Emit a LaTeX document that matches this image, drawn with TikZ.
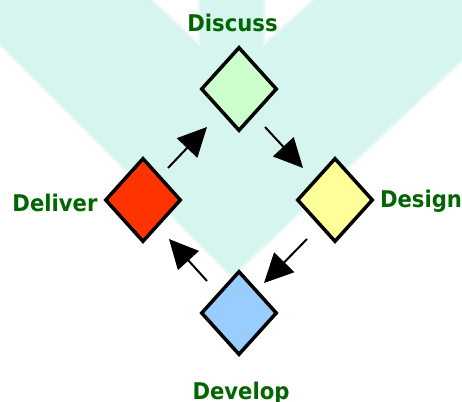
\documentclass[tikz,border=0pt]{standalone}
\usepackage{fontspec}
\setmainfont{DejaVu Sans}
\newfontfamily\lblfont[FakeStretch=0.92]{DejaVu Sans Bold}
\usetikzlibrary{shapes.geometric,arrows.meta}
\definecolor{bgcyan}{RGB}{213,245,238}
\definecolor{lblgreen}{RGB}{0,102,0}
\definecolor{cgreen}{RGB}{204,255,204}
\definecolor{cyellow}{RGB}{255,255,153}
\definecolor{cblue}{RGB}{153,204,255}
\definecolor{cred}{RGB}{255,51,0}
\tikzset{
  stepbox/.style={diamond, draw=black, line width=3.5pt, minimum width=76pt, minimum height=84pt, inner sep=0pt},
  lbl/.style={text=lblgreen, font=\lblfont\fontsize{23}{27}\selectfont, anchor=base, inner sep=0pt},
  arr/.style={line width=2pt, -{Triangle[length=29pt,width=28pt]}}
}
\begin{document}
\begin{tikzpicture}[x=1pt,y=-1pt]
\useasboundingbox (0,0) rectangle (462,401);
\fill[white] (0,0) rectangle (462,401);
% watermark
\fill[bgcyan] (0,0) -- (150,0) -- (200,47) -- (200,0) -- (263,0) -- (263,47) -- (315,0) -- (462,0) -- (462,59) -- (232,275) -- (0,43) -- cycle;
\draw[bgcyan, opacity=0.5, line width=5pt, line join=round] (0,43) -- (232,275) -- (462,59);
\draw[bgcyan, opacity=0.5, line width=5pt, line join=round] (150,0) -- (200,47) -- (200,0);
\draw[bgcyan, opacity=0.5, line width=5pt, line join=round] (263,0) -- (263,47) -- (315,0);
% diamonds
\node[stepbox, fill=cgreen]  (discuss) at (239,89) {};
\node[stepbox, fill=cyellow] (design)  at (335,200) {};
\node[stepbox, fill=cblue]   (develop) at (239,313) {};
\node[stepbox, fill=cred]    (deliver) at (143,200) {};
% labels
\node[lbl] (tdiscuss) at (232.5,32) {Discuss};
\node[lbl] (tdesign)  at (421,207) {Design};
\node[lbl] (tdevelop) at (241,399.5) {Develop};
\node[lbl] (tdeliver) at (55,211) {Deliver};
% arrows
\draw[arr] ([shift={(25,-32)}]deliver.center) -- ([shift={(-32,38)}]discuss.center);
\draw[arr] ([shift={(26,38)}]discuss.center) -- ([shift={(-32,-32)}]design.center);
\draw[arr] ([shift={(-28,39)}]design.center) -- ([shift={(25,-30)}]develop.center);
\draw[arr] ([shift={(-32,-32)}]develop.center) -- ([shift={(26,39)}]deliver.center);
\end{tikzpicture}
\end{document}
